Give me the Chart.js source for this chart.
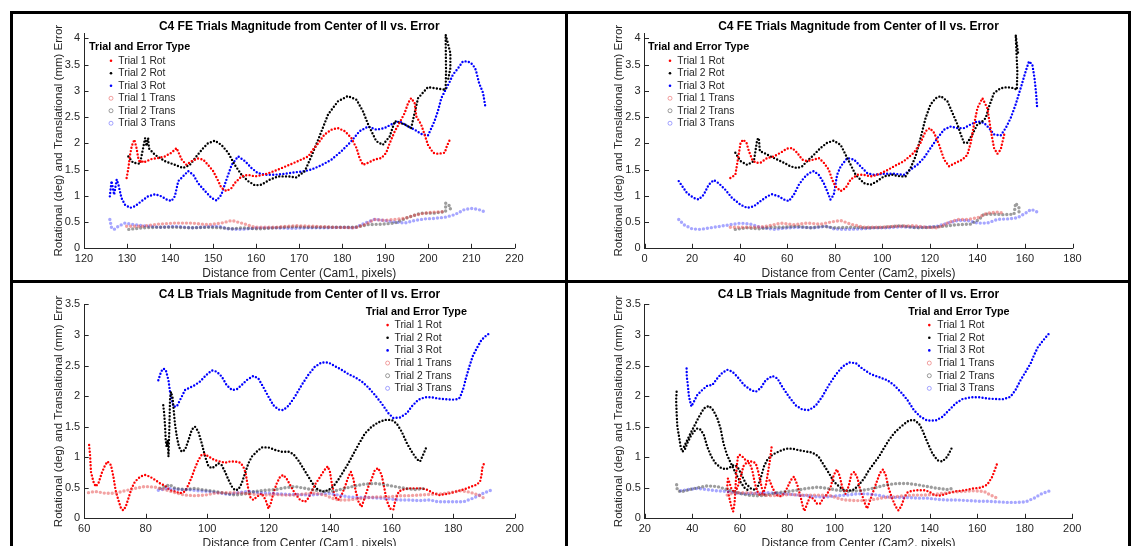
<!DOCTYPE html>
<html>
<head>
<meta charset="utf-8">
<script src="https://cdn.jsdelivr.net/npm/chart.js@4.4.1/dist/chart.umd.min.js"></script>
<style>
  html, body { margin: 0; padding: 0; background: #fff; width: 1134px; height: 546px; overflow: hidden; }
  .rule { position: absolute; background: #000; }
  canvas { position: absolute; }
</style>
</head>
<body>
<div class="rule" style="left:10px;top:11px;width:1121px;height:3px"></div>
<div class="rule" style="left:10px;top:11px;width:3px;height:540px"></div>
<div class="rule" style="left:565px;top:11px;width:3px;height:540px"></div>
<div class="rule" style="left:1128px;top:11px;width:3px;height:540px"></div>
<div class="rule" style="left:10px;top:280px;width:1121px;height:3px"></div>

<canvas id="c-fe1" width="552" height="266" style="left:13px;top:14px"></canvas>
<canvas id="c-fe2" width="560" height="266" style="left:568px;top:14px"></canvas>
<canvas id="c-lb1" width="552" height="267" style="left:13px;top:283px"></canvas>
<canvas id="c-lb2" width="560" height="267" style="left:568px;top:283px"></canvas>

<script>
// ===== DATA =====
const seriesLabels = ['Trial 1 Rot', 'Trial 2 Rot', 'Trial 3 Rot', 'Trial 1 Trans', 'Trial 2 Trans', 'Trial 3 Trans'];
const legendTitle = 'Trial and Error Type';
const titleFE = 'C4 FE Trials Magnitude from Center of II vs. Error';
const titleLB = 'C4 LB Trials Magnitude from Center of II vs. Error';
const xLabelCam1 = 'Distance from Center (Cam1, pixels)';
const xLabelCam2 = 'Distance from Center (Cam2, pixels)';
const yLabel = 'Rotational (deg) and Translational (mm) Error';

// FE, Cam1  [distance, error]
const feCam1Rot1 = [[129.9,1.34],[130.3,1.52],[130.7,1.78],[131.1,1.95],[131.7,2.07],[132.2,1.91],[132.6,1.72],[133.0,1.63],[133.4,1.68],[133.8,1.63],[134.5,1.66],[135.7,1.70],[137.2,1.72],[138.8,1.75],[140.3,1.82],[141.5,1.91],[142.7,1.69],[143.8,1.59],[145.0,1.66],[146.5,1.71],[147.7,1.69],[148.8,1.59],[150.0,1.47],[151.2,1.28],[151.9,1.15],[153.1,1.09],[154.3,1.15],[155.0,1.24],[156.6,1.37],[158.1,1.40],[159.7,1.37],[161.2,1.39],[162.8,1.43],[165.1,1.50],[167.4,1.58],[169.7,1.66],[172.1,1.75],[173.2,1.88],[174.4,2.00],[175.9,2.17],[177.5,2.26],[179.0,2.29],[180.6,2.23],[182.1,2.10],[183.3,1.91],[184.0,1.72],[184.8,1.59],[186.0,1.63],[187.5,1.69],[189.1,1.72],[190.2,1.82],[191.0,2.00],[192.2,2.23],[193.3,2.39],[194.5,2.58],[195.3,2.77],[196.0,2.86],[196.8,2.77],[197.2,2.51],[198.3,2.36],[199.1,2.17],[199.9,1.97],[201.1,1.82],[202.2,1.80],[203.8,1.82],[204.3,1.95],[205.0,2.07]];
const feCam1Rot2 = [[130.3,1.75],[131.4,1.63],[133.0,1.61],[134.2,2.10],[134.5,1.95],[134.9,2.10],[135.1,1.90],[136.5,1.78],[138.8,1.66],[141.1,1.59],[143.0,1.53],[144.6,1.59],[146.1,1.75],[147.7,1.91],[148.8,2.00],[150.4,2.05],[151.9,1.97],[153.5,1.82],[155.0,1.59],[156.6,1.40],[158.1,1.28],[159.7,1.20],[161.2,1.21],[163.2,1.31],[165.1,1.37],[167.4,1.37],[169.3,1.35],[171.3,1.47],[172.8,1.75],[174.4,2.07],[176.7,2.55],[179.0,2.80],[181.3,2.90],[183.3,2.83],[184.8,2.61],[186.0,2.36],[187.9,2.04],[189.4,1.97],[191.0,2.13],[192.2,2.42],[194.5,2.36],[196.0,2.29],[196.8,2.58],[197.6,2.86],[199.9,3.07],[202.2,3.04],[204.0,3.02],[204.1,3.37],[204.0,4.07],[205.1,3.72],[205.1,3.43],[204.5,3.18]];
const feCam1Rot3 = [[126.0,0.99],[126.4,1.28],[127.0,1.02],[127.6,1.31],[128.0,1.21],[128.7,0.96],[129.5,0.83],[130.7,0.77],[131.8,0.80],[133.4,0.90],[134.9,0.99],[136.5,1.03],[138.0,0.99],[139.2,0.93],[140.3,0.90],[141.1,0.99],[141.9,1.28],[143.0,1.37],[144.2,1.47],[145.4,1.40],[146.5,1.24],[148.1,1.09],[149.6,0.96],[150.8,0.91],[151.9,1.02],[153.1,1.31],[154.3,1.59],[155.8,1.75],[157.4,1.66],[158.9,1.53],[160.4,1.43],[162.4,1.40],[164.3,1.40],[166.6,1.42],[169.3,1.45],[171.3,1.47],[172.8,1.50],[175.1,1.58],[177.5,1.69],[179.8,1.85],[182.1,2.04],[184.0,2.23],[186.0,2.32],[187.9,2.26],[189.8,2.29],[191.4,2.36],[193.3,2.42],[195.3,2.32],[196.8,2.26],[198.3,2.18],[199.9,2.15],[200.7,2.29],[201.4,2.42],[202.2,2.61],[203.0,2.86],[203.8,2.99],[205.0,3.18],[205.7,3.31],[206.9,3.43],[208.0,3.56],[209.2,3.56],[210.3,3.50],[211.0,3.40],[211.8,3.14],[212.7,2.96],[213.2,2.71]];
const feCam1Tr1 = [[129.9,0.42],[133.4,0.42],[137.2,0.46],[141.1,0.48],[145.0,0.48],[148.8,0.45],[151.9,0.48],[154.3,0.53],[156.6,0.48],[159.7,0.40],[164.3,0.40],[169.0,0.43],[173.6,0.42],[178.2,0.40],[182.9,0.39],[185.2,0.45],[187.5,0.55],[189.8,0.53],[192.2,0.55],[194.5,0.57],[196.8,0.63],[199.1,0.67],[201.4,0.69],[203.9,0.70]];
const feCam1Tr2 = [[130.4,0.36],[133.4,0.39],[137.2,0.40],[141.1,0.40],[145.0,0.39],[148.8,0.40],[151.9,0.39],[154.3,0.37],[156.6,0.39],[160.4,0.37],[164.3,0.39],[169.0,0.41],[172.1,0.40],[176.7,0.40],[182.9,0.40],[186.0,0.45],[189.1,0.46],[192.2,0.48],[195.3,0.59],[198.3,0.67],[201.4,0.67],[204.0,0.70],[204.0,0.86],[205.1,0.80],[205.1,0.72]];
const feCam1Tr3 = [[126.0,0.55],[126.4,0.39],[127.0,0.36],[128.0,0.42],[129.5,0.48],[131.8,0.45],[134.9,0.42],[138.0,0.40],[141.1,0.42],[145.0,0.39],[148.8,0.41],[151.2,0.42],[153.5,0.37],[156.6,0.36],[160.4,0.39],[164.3,0.39],[168.2,0.38],[172.1,0.39],[175.9,0.39],[179.8,0.40],[182.9,0.39],[185.2,0.48],[187.5,0.55],[189.8,0.53],[192.2,0.50],[194.5,0.48],[196.8,0.53],[199.1,0.56],[201.4,0.57],[203.8,0.59],[206.1,0.64],[208.4,0.74],[210.3,0.76],[212.0,0.73],[213.2,0.69]];

// FE, Cam2
const feCam2Rot1 = [[36.1,1.34],[38.2,1.40],[39.6,1.78],[40.4,2.01],[41.5,2.07],[42.9,2.01],[43.9,1.85],[45.3,1.69],[46.7,1.63],[48.8,1.63],[51.6,1.72],[54.4,1.75],[57.2,1.82],[60.0,1.90],[62.1,1.91],[64.2,1.82],[66.3,1.69],[68.4,1.66],[71.2,1.69],[73.3,1.72],[75.4,1.63],[77.5,1.50],[78.9,1.31],[80.3,1.18],[82.5,1.09],[84.6,1.15],[86.7,1.31],[89.5,1.40],[92.3,1.40],[95.1,1.37],[97.9,1.40],[101.4,1.47],[104.9,1.56],[109.1,1.66],[113.3,1.82],[116.1,2.01],[118.2,2.23],[120.0,2.29],[121.8,2.20],[123.9,1.97],[126.0,1.69],[128.1,1.56],[130.9,1.63],[133.7,1.69],[135.8,1.78],[137.2,2.01],[138.6,2.36],[140.0,2.67],[142.1,2.86],[144.2,2.67],[145.7,2.23],[147.0,1.91],[148.4,1.80],[149.8,1.88],[151.3,2.17]];
const feCam2Rot2 = [[38.2,1.82],[40.4,1.66],[43.2,1.59],[46.0,1.66],[47.4,2.07],[48.1,2.10],[48.5,1.85],[50.2,1.82],[53.0,1.75],[55.8,1.69],[58.6,1.63],[61.4,1.56],[64.2,1.53],[66.3,1.56],[68.4,1.66],[71.2,1.78],[74.0,1.91],[76.8,2.01],[79.6,2.05],[82.5,1.97],[84.6,1.78],[86.7,1.59],[88.8,1.40],[92.3,1.24],[95.1,1.21],[97.9,1.28],[100.7,1.37],[104.2,1.40],[107.7,1.37],[109.8,1.37],[111.9,1.53],[114.0,1.75],[116.1,2.10],[118.2,2.48],[120.3,2.74],[122.5,2.86],[124.6,2.90],[127.4,2.80],[129.5,2.58],[131.6,2.36],[133.0,2.17],[134.4,2.01],[135.8,2.01],[137.9,2.17],[140.0,2.36],[141.4,2.39],[143.5,2.48],[144.9,2.70],[147.0,2.96],[149.8,3.05],[152.6,3.07],[155.4,3.05],[156.6,3.02],[156.8,3.37],[156.1,4.07],[157.1,3.72]];
const feCam2Rot3 = [[14.4,1.28],[17.9,1.05],[20.7,0.96],[22.8,0.93],[24.9,1.02],[27.0,1.21],[29.1,1.30],[31.2,1.24],[33.9,1.12],[36.8,0.96],[40.4,0.83],[43.2,0.77],[46.0,0.80],[48.8,0.90],[51.6,0.99],[53.7,1.03],[56.5,0.99],[58.6,0.93],[60.7,0.90],[62.8,1.02],[64.9,1.21],[67.0,1.34],[69.1,1.43],[71.2,1.47],[73.3,1.40],[75.4,1.24],[76.8,1.09],[78.2,0.93],[79.6,1.02],[81.0,1.40],[82.5,1.56],[85.3,1.72],[88.1,1.69],[90.9,1.56],[93.7,1.43],[96.5,1.40],[100.7,1.42],[104.9,1.42],[109.1,1.40],[111.9,1.50],[114.7,1.59],[117.5,1.72],[120.3,1.91],[123.2,2.10],[126.0,2.26],[128.8,2.32],[131.6,2.29],[134.4,2.29],[137.2,2.36],[140.0,2.42],[142.8,2.39],[144.9,2.29],[147.0,2.17],[149.8,2.15],[151.9,2.29],[154.0,2.48],[156.1,2.74],[158.2,3.05],[160.3,3.37],[161.7,3.56],[163.1,3.50],[164.0,3.25],[164.7,2.95],[165.1,2.70]];
const feCam2Tr1 = [[36.1,0.40],[40.4,0.40],[46.0,0.40],[51.6,0.42],[57.2,0.48],[62.8,0.45],[68.4,0.48],[74.0,0.46],[79.6,0.51],[82.5,0.53],[86.7,0.46],[92.3,0.40],[99.3,0.40],[106.3,0.42],[113.3,0.43],[118.9,0.40],[123.2,0.39],[127.4,0.48],[131.6,0.55],[135.8,0.55],[140.0,0.58],[144.2,0.67],[148.4,0.69],[151.3,0.67]];
const feCam2Tr2 = [[38.2,0.36],[43.2,0.39],[48.1,0.37],[53.0,0.40],[58.6,0.40],[64.2,0.42],[69.8,0.39],[75.4,0.42],[79.6,0.39],[86.7,0.40],[93.7,0.39],[100.7,0.40],[107.7,0.43],[114.7,0.39],[120.3,0.40],[126.0,0.42],[131.6,0.45],[137.2,0.46],[140.7,0.55],[142.8,0.65],[147.0,0.65],[151.3,0.64],[155.4,0.65],[156.1,0.86],[157.5,0.77],[157.5,0.67]];
const feCam2Tr3 = [[14.4,0.55],[16.5,0.45],[20.0,0.37],[23.5,0.36],[27.7,0.39],[31.9,0.42],[36.1,0.45],[40.4,0.48],[44.6,0.46],[48.8,0.40],[54.4,0.36],[60.0,0.39],[65.6,0.40],[71.2,0.39],[76.8,0.42],[79.6,0.37],[85.3,0.36],[90.9,0.37],[96.5,0.39],[102.1,0.39],[107.7,0.41],[113.3,0.40],[118.9,0.40],[123.2,0.42],[127.4,0.48],[131.6,0.53],[135.8,0.53],[140.0,0.48],[144.2,0.48],[148.4,0.55],[152.6,0.56],[156.8,0.58],[160.3,0.67],[162.5,0.74],[164.0,0.72],[165.2,0.69]];

// LB, Cam1
const lbCam1Rot1 = [[61.6,1.20],[61.9,1.04],[62.2,0.76],[63.0,0.60],[63.7,0.52],[64.6,0.57],[65.7,0.74],[66.8,0.87],[67.6,0.93],[68.7,0.87],[69.5,0.68],[70.2,0.46],[71.1,0.30],[72.0,0.16],[72.7,0.13],[73.5,0.19],[74.4,0.33],[75.4,0.49],[76.5,0.60],[78.2,0.68],[79.8,0.71],[81.4,0.68],[83.0,0.63],[84.7,0.57],[86.3,0.53],[87.9,0.46],[89.5,0.44],[91.2,0.41],[92.8,0.44],[93.9,0.55],[95.0,0.68],[96.0,0.82],[97.1,0.95],[98.2,1.04],[99.3,1.05],[100.4,1.01],[101.5,0.98],[102.5,0.95],[104.2,0.93],[105.8,0.91],[107.4,0.93],[109.0,0.93],[110.7,0.91],[111.7,0.85],[112.5,0.74],[113.2,0.52],[113.9,0.35],[115.0,0.30],[116.1,0.35],[117.7,0.41],[119.0,0.30],[119.9,0.16],[120.7,0.25],[121.5,0.41],[122.6,0.57],[123.7,0.68],[124.7,0.71],[125.8,0.65],[126.9,0.55],[128.5,0.41],[130.2,0.30],[131.8,0.27],[132.9,0.33],[134.0,0.44],[135.0,0.55],[136.1,0.63],[138.1,0.79],[139.2,0.85],[139.9,0.76],[140.5,0.57],[141.5,0.35],[142.6,0.30],[143.7,0.38],[144.8,0.52],[145.9,0.68],[146.7,0.76],[147.5,0.65],[148.3,0.44],[149.3,0.25],[150.2,0.19],[151.3,0.35],[152.4,0.52],[153.5,0.65],[154.5,0.79],[155.6,0.82],[156.7,0.71],[157.6,0.49],[158.3,0.30],[159.4,0.16],[160.5,0.14],[161.2,0.30],[162.3,0.44],[163.7,0.47],[165.4,0.49],[167.5,0.49],[169.7,0.49],[171.9,0.46],[173.5,0.41],[175.6,0.38],[178.9,0.41],[181.0,0.44],[183.3,0.47],[185.4,0.51],[187.6,0.55],[188.7,0.60],[189.2,0.71],[189.4,0.82],[190.1,0.91]];
const lbCam1Rot2 = [[85.7,1.85],[86.0,1.72],[86.3,1.50],[86.5,1.28],[86.8,1.17],[87.2,1.28],[87.4,1.01],[87.7,1.50],[87.9,1.94],[88.2,2.07],[88.7,1.99],[89.1,1.77],[89.5,1.55],[90.1,1.34],[90.8,1.17],[91.7,1.09],[92.8,1.12],[93.9,1.28],[95.0,1.45],[96.0,1.50],[97.1,1.42],[98.2,1.23],[99.3,1.01],[100.4,0.85],[101.5,0.82],[102.5,0.85],[103.6,0.90],[104.7,0.87],[105.8,0.76],[106.9,0.63],[108.0,0.52],[109.0,0.46],[110.1,0.47],[111.2,0.57],[112.3,0.74],[113.4,0.90],[114.5,1.01],[116.1,1.09],[117.7,1.16],[119.9,1.16],[122.0,1.12],[124.2,1.09],[126.4,1.09],[128.0,1.05],[129.6,0.95],[131.2,0.82],[132.9,0.68],[134.5,0.55],[136.1,0.46],[137.7,0.44],[139.4,0.46],[141.0,0.52],[142.6,0.63],[144.2,0.76],[145.9,0.90],[147.5,1.05],[149.1,1.20],[151.3,1.39],[153.5,1.50],[155.6,1.57],[157.8,1.61],[160.0,1.61],[161.6,1.55],[163.2,1.42],[164.9,1.23],[166.5,1.09],[168.1,0.97],[169.2,0.93],[170.2,1.04],[171.3,1.17]];
const lbCam1Rot3 = [[84.1,2.26],[85.0,2.40],[85.7,2.45],[86.5,2.43],[87.4,2.26],[87.9,2.07],[89.0,1.83],[90.1,1.83],[91.2,1.94],[92.8,2.10],[94.4,2.14],[96.0,2.18],[97.7,2.24],[99.8,2.35],[101.5,2.42],[103.1,2.40],[104.7,2.32],[106.3,2.18],[108.0,2.10],[109.6,2.11],[111.2,2.18],[112.8,2.26],[115.0,2.33],[116.6,2.29],[118.2,2.15],[119.9,1.99],[121.5,1.85],[123.1,1.78],[124.7,1.77],[126.4,1.84],[128.5,1.99],[130.7,2.18],[132.9,2.35],[135.0,2.48],[137.2,2.55],[139.4,2.55],[141.5,2.49],[143.7,2.43],[145.9,2.36],[148.0,2.31],[150.2,2.24],[152.4,2.14],[154.5,2.02],[156.7,1.88],[158.9,1.72],[160.5,1.64],[162.7,1.65],[164.9,1.72],[166.5,1.83],[168.6,1.94],[170.8,1.98],[173.0,1.98],[175.1,1.96],[177.3,1.95],[179.5,1.94],[181.6,1.95],[182.2,1.98],[183.3,2.13],[184.1,2.29],[185.2,2.48],[186.3,2.65],[187.6,2.78],[189.2,2.92],[190.9,3.00],[192.3,3.04]];
const lbCam1Tr1 = [[61.4,0.42],[63.5,0.44],[66.8,0.41],[70.0,0.41],[73.3,0.45],[76.5,0.49],[79.8,0.52],[83.0,0.51],[86.3,0.47],[89.5,0.42],[92.8,0.38],[96.0,0.37],[99.3,0.38],[102.5,0.41],[105.8,0.42],[109.0,0.42],[112.3,0.41],[115.5,0.39],[118.8,0.38],[122.0,0.39],[125.3,0.38],[128.5,0.38],[131.8,0.40],[135.0,0.41],[138.3,0.38],[140.5,0.33],[142.6,0.30],[145.9,0.30],[149.1,0.32],[152.4,0.34],[155.6,0.35],[158.9,0.35],[162.1,0.37],[165.4,0.37],[168.6,0.38],[171.9,0.39],[176.0,0.40],[180.0,0.43],[182.2,0.45],[184.3,0.44],[186.5,0.41],[188.7,0.37],[190.3,0.32]];
const lbCam1Tr2 = [[84.7,0.49],[86.3,0.52],[87.9,0.55],[89.5,0.49],[92.8,0.47],[96.0,0.49],[99.3,0.46],[102.5,0.44],[105.8,0.41],[109.0,0.38],[112.3,0.40],[115.5,0.44],[118.8,0.46],[122.0,0.47],[125.3,0.50],[128.5,0.52],[131.8,0.49],[135.0,0.46],[138.3,0.44],[141.5,0.45],[144.8,0.49],[148.0,0.53],[151.3,0.56],[154.5,0.57],[157.8,0.55],[161.0,0.52],[164.3,0.49],[167.5,0.47],[170.8,0.49]];
const lbCam1Tr3 = [[84.1,0.46],[87.4,0.49],[90.6,0.47],[93.9,0.47],[97.1,0.45],[100.4,0.44],[103.6,0.42],[106.9,0.39],[110.1,0.42],[113.4,0.44],[116.6,0.42],[119.9,0.41],[123.1,0.40],[126.4,0.39],[129.6,0.39],[132.9,0.38],[136.1,0.39],[139.4,0.41],[142.6,0.38],[145.9,0.35],[149.1,0.34],[152.4,0.34],[155.6,0.33],[158.9,0.32],[162.1,0.30],[165.4,0.30],[168.6,0.29],[172.4,0.30],[175.1,0.27],[178.9,0.27],[183.3,0.27],[186.5,0.33],[189.8,0.41],[192.3,0.46]];

// LB, Cam2  (null = break between separate passes)
const lbCam2Rot1 = [[55.0,0.65],[54.7,0.52],[55.2,0.40],[55.8,0.30],[56.5,0.18],[57.2,0.11],[57.8,0.25],[58.2,0.52],[58.7,0.85],[59.2,1.00],[59.9,1.04],[61.1,1.01],[62.5,0.95],[63.9,0.93],[65.3,0.93],[66.7,0.90],[67.6,0.79],[68.5,0.63],[69.5,0.46],[70.5,0.38], null,
  [55.5,0.60],[56.5,0.48],[57.8,0.42],[59.0,0.50],[60.4,0.68],[61.5,0.85],[62.8,0.91],[64.2,0.90],[65.3,0.78],[66.2,0.60],[67.2,0.45],[68.5,0.38],[70.0,0.42],[71.0,0.55],[72.0,0.78],[72.8,0.98],[73.4,1.17], null,
  [72.5,0.62],[74.0,0.48],[75.5,0.38],[77.0,0.36],[78.6,0.40],[80.0,0.50],[81.4,0.62],[82.8,0.68],[84.2,0.55],[85.6,0.35],[86.5,0.20],[87.2,0.12],[88.2,0.22],[89.5,0.35],[91.0,0.32],[92.5,0.24],[93.8,0.24],[95.2,0.33],[96.8,0.40],[98.2,0.50],[99.5,0.70],[100.8,0.80],[102.0,0.70],[103.2,0.50],[104.5,0.40],[105.8,0.52],[107.0,0.72],[108.2,0.76],[109.5,0.66],[110.5,0.50],[111.5,0.38],[112.6,0.25],[113.6,0.16],[114.6,0.26],[116.0,0.42],[117.5,0.58],[119.0,0.74],[120.3,0.80],[121.5,0.70],[122.6,0.50],[124.0,0.34],[125.5,0.20],[126.8,0.13],[128.0,0.20],[129.2,0.33],[130.5,0.42],[132.5,0.45],[135.0,0.46],[138.0,0.46],[140.0,0.43],[141.8,0.38],[144.0,0.37],[146.0,0.39],[148.5,0.42],[150.5,0.44],[153.0,0.45],[156.0,0.47],[158.6,0.49],[161.4,0.50],[164.2,0.55],[166.3,0.68],[168.4,0.90]];
const lbCam2Rot2 = [[33.4,2.07],[33.2,1.94],[33.4,1.72],[33.7,1.50],[34.4,1.34],[35.1,1.17],[35.8,1.09],[36.8,1.12],[37.9,1.23],[39.3,1.34],[40.7,1.42],[42.1,1.47],[43.5,1.45],[44.9,1.36],[46.3,1.17],[48.0,1.01],[49.8,0.90],[51.9,0.83],[54.0,0.80],[56.1,0.84],[57.5,0.87],[58.9,0.85],[60.4,0.74],[62.5,0.57],[64.6,0.49],[66.7,0.46],[67.6,0.52],[68.8,0.66],[70.2,0.85],[71.6,0.96],[73.7,1.04],[75.8,1.08],[77.9,1.12],[80.0,1.14],[82.1,1.14],[84.2,1.12],[87.0,1.10],[89.8,1.08],[91.9,1.05],[93.3,1.00],[95.4,0.87],[97.5,0.74],[99.6,0.60],[101.8,0.52],[103.9,0.46],[106.0,0.45],[108.1,0.47],[110.2,0.55],[112.3,0.65],[114.4,0.79],[116.5,0.90],[118.6,1.01],[120.7,1.15],[122.8,1.28],[124.9,1.39],[127.0,1.47],[129.1,1.54],[131.2,1.60],[133.3,1.61],[135.4,1.55],[136.8,1.45],[138.9,1.25],[141.1,1.06],[143.2,0.95],[145.3,0.93],[147.4,1.01],[149.5,1.17], null,
  [36.5,1.17],[38.6,1.34],[40.7,1.50],[42.8,1.66],[44.9,1.80],[47.0,1.84],[48.8,1.77],[50.5,1.64],[51.9,1.47],[53.1,1.23],[54.5,1.05],[56.0,0.92],[57.5,0.80],[59.0,0.68],[60.5,0.58],[62.0,0.50],[63.5,0.46]];
const lbCam2Rot3 = [[37.6,2.45],[37.7,2.30],[37.9,2.26],[38.6,1.99],[39.6,1.83],[40.7,1.91],[42.1,2.02],[44.2,2.10],[46.3,2.17],[48.4,2.18],[50.5,2.29],[52.6,2.38],[54.7,2.43],[56.8,2.40],[58.9,2.32],[61.8,2.18],[64.6,2.10],[66.7,2.07],[68.8,2.13],[70.9,2.26],[73.7,2.33],[75.8,2.29],[77.9,2.15],[80.7,1.99],[83.5,1.85],[86.3,1.78],[89.1,1.77],[91.9,1.84],[94.7,1.99],[97.5,2.18],[100.4,2.35],[103.2,2.48],[106.0,2.55],[108.8,2.54],[111.6,2.45],[115.1,2.36],[118.6,2.31],[122.1,2.26],[124.9,2.18],[127.7,2.07],[130.5,1.94],[133.3,1.77],[136.1,1.66],[138.9,1.60],[142.5,1.60],[145.3,1.66],[148.1,1.77],[150.9,1.88],[153.7,1.95],[157.2,1.98],[160.7,1.98],[164.2,1.96],[168.4,1.95],[171.2,1.95],[174.0,1.99],[176.1,2.10],[178.2,2.26],[180.4,2.40],[182.5,2.54],[183.9,2.67],[185.5,2.80],[187.5,2.90],[189.2,2.98],[190.6,3.04]];
const lbCam2Tr1 = [[54.7,0.38],[57.5,0.42],[60.4,0.42],[64.6,0.42],[68.8,0.39],[73.0,0.37],[77.2,0.38],[81.4,0.39],[85.6,0.38],[89.8,0.38],[94.0,0.38],[98.2,0.37],[101.1,0.33],[103.9,0.30],[108.1,0.29],[112.3,0.29],[116.5,0.31],[120.7,0.34],[124.9,0.35],[129.1,0.37],[133.3,0.38],[137.5,0.38],[141.8,0.39],[146.0,0.41],[150.2,0.43],[154.4,0.44],[158.6,0.45],[162.8,0.44],[165.6,0.38],[168.4,0.33]];
const lbCam2Tr2 = [[33.4,0.55],[33.7,0.46],[35.1,0.43],[37.9,0.46],[42.1,0.50],[46.3,0.53],[50.5,0.52],[54.7,0.47],[58.9,0.42],[63.2,0.38],[67.4,0.37],[71.6,0.38],[75.8,0.42],[80.0,0.44],[84.2,0.46],[88.4,0.49],[92.6,0.51],[96.8,0.49],[101.1,0.46],[105.3,0.44],[109.5,0.45],[113.7,0.47],[117.9,0.51],[122.1,0.55],[126.3,0.57],[130.5,0.57],[134.7,0.55],[138.9,0.52],[143.2,0.49],[147.4,0.47],[149.5,0.49]];
const lbCam2Tr3 = [[35.1,0.45],[37.9,0.47],[42.1,0.49],[46.3,0.47],[50.5,0.45],[54.7,0.44],[58.9,0.41],[63.2,0.40],[67.4,0.41],[71.6,0.42],[75.8,0.41],[80.0,0.40],[84.2,0.38],[88.4,0.37],[92.6,0.35],[96.8,0.35],[101.1,0.37],[105.3,0.38],[109.5,0.40],[113.7,0.40],[117.9,0.38],[122.1,0.35],[126.3,0.34],[130.5,0.34],[134.7,0.33],[138.9,0.33],[143.2,0.31],[147.4,0.30],[151.6,0.30],[155.8,0.29],[160.0,0.28],[164.2,0.28],[168.4,0.27],[172.6,0.26],[176.8,0.26],[180.4,0.27],[183.9,0.33],[187.0,0.40],[190.5,0.45]];

// ===== STYLE =====
const FONT = '"Liberation Sans", Arial, Helvetica, sans-serif';
const AXIS = '#262626';
const seriesStyle = [
  { color: '#ff0000', trans: false },
  { color: '#000000', trans: false },
  { color: '#0000ff', trans: false },
  { color: 'rgba(230,70,70,0.5)', trans: true },
  { color: 'rgba(50,50,50,0.48)', trans: true },
  { color: 'rgba(70,70,255,0.48)', trans: true }
];

const toXY = arr => arr.map(p => p ? { x: p[0], y: p[1] } : { x: null, y: null });

// MATLAB-like ticks pointing into the axes
const inwardTicks = {
  id: 'inwardTicks',
  afterDatasetsDraw(chart) {
    const { ctx, chartArea: a, scales: { x, y } } = chart;
    ctx.save();
    ctx.strokeStyle = AXIS;
    ctx.lineWidth = 1;
    ctx.beginPath();
    x.ticks.forEach(t => {
      const p = Math.round(x.getPixelForValue(t.value)) + 0.5;
      ctx.moveTo(p, a.bottom); ctx.lineTo(p, a.bottom - 4.5);
    });
    y.ticks.forEach(t => {
      const p = Math.round(y.getPixelForValue(t.value)) + 0.5;
      ctx.moveTo(a.left, p); ctx.lineTo(a.left + 4.5, p);
    });
    ctx.stroke();
    ctx.restore();
  }
};

// legend without box, placed inside the axes like the MATLAB one
const matLegend = {
  id: 'matLegend',
  afterDraw(chart, args, o) {
    const { ctx, chartArea: a } = chart;
    ctx.save();
    ctx.textBaseline = 'middle';
    ctx.textAlign = 'left';
    ctx.fillStyle = '#000';
    ctx.font = 'bold 10.8px ' + FONT;
    ctx.fillText(legendTitle, a.left + o.titleX, a.top + o.titleY);
    ctx.font = '10.3px ' + FONT;
    seriesLabels.forEach((label, i) => {
      const s = seriesStyle[i];
      const y = a.top + o.firstY + i * o.step;
      const mx = a.left + o.markX;
      ctx.beginPath();
      if (s.trans) {
        ctx.arc(mx, y, 2, 0, Math.PI * 2);
        ctx.strokeStyle = s.color;
        ctx.lineWidth = 1;
        ctx.stroke();
      } else {
        ctx.arc(mx, y, 1.3, 0, Math.PI * 2);
        ctx.fillStyle = s.color;
        ctx.fill();
      }
      ctx.fillStyle = AXIS;
      ctx.fillText(label, a.left + o.textX, y);
    });
    ctx.restore();
  }
};

const tickText = v => String(Number(v.toFixed(2)));

function makePanel(id, cfg) {
  const datasets = cfg.series.map((arr, i) => {
    const s = seriesStyle[i];
    return {
      label: seriesLabels[i],
      data: toXY(arr),
      showLine: true,
      borderColor: s.color,
      borderWidth: s.trans ? 3.4 : 2.4,
      borderDash: s.trans ? [0, 4] : [0, 3.4],
      borderCapStyle: 'round',
      pointRadius: 0,
      pointHoverRadius: 0,
      tension: 0,
      fill: false,
      spanGaps: false,
      order: s.trans ? 1 : 2
    };
  });

  return new Chart(document.getElementById(id), {
    type: 'scatter',
    data: { datasets },
    plugins: [inwardTicks, matLegend],
    options: {
      responsive: false,
      animation: false,
      events: [],
      layout: { padding: { left: cfg.padL, right: cfg.padR, top: 0, bottom: 0 } },
      plugins: {
        legend: { display: false },
        tooltip: { enabled: false },
        title: {
          display: true,
          text: cfg.title,
          fullSize: false,
          color: '#000',
          font: { family: FONT, size: 12, weight: 'bold', lineHeight: 1 },
          padding: { top: cfg.titleTop, bottom: cfg.titleBottom }
        },
        matLegend: cfg.legend
      },
      scales: {
        x: {
          type: 'linear',
          min: cfg.xMin, max: cfg.xMax,
          afterFit: s => { s.height = 31.7; },
          grid: { display: true, drawOnChartArea: false, drawTicks: false },
          border: { display: true, color: AXIS, width: 1 },
          ticks: { stepSize: cfg.xStep, autoSkip: false, maxRotation: 0, padding: 4.4, color: AXIS, font: { family: FONT, size: 11 }, callback: tickText },
          title: { display: true, text: cfg.xLabel, color: AXIS, font: { family: FONT, size: 12, lineHeight: 1 }, padding: { top: 0, bottom: 0 } }
        },
        y: {
          type: 'linear',
          min: 0, max: cfg.yMax,
          afterFit: s => { s.width = 40; },
          grid: { display: true, drawOnChartArea: false, drawTicks: false },
          border: { display: true, color: AXIS, width: 1 },
          ticks: { stepSize: 0.5, includeBounds: false, padding: 4, color: AXIS, font: { family: FONT, size: 11 }, callback: tickText },
          title: { display: true, text: yLabel, color: AXIS, font: { family: FONT, size: 11.5, lineHeight: 1 }, padding: { top: 8.6, bottom: 0 } }
        }
      }
    }
  });
}

const legendTopLeft  = { titleX: 5,   titleY: 13.8, markX: 27,  textX: 34.3, firstY: 27.7, step: 12.5 };
const legendTopRight = { titleX: 3.5, titleY: 13.8, markX: 25.5, textX: 32.8, firstY: 27.7, step: 12.5 };

makePanel('c-fe1', {
  title: titleFE, xLabel: xLabelCam1, xMin: 120, xMax: 220, xStep: 10, yMax: 4.1,
  padL: 31, padR: 50.5, titleTop: 6.7, titleBottom: 0.35, legend: legendTopLeft,
  series: [feCam1Rot1, feCam1Rot2, feCam1Rot3, feCam1Tr1, feCam1Tr2, feCam1Tr3]
});
makePanel('c-fe2', {
  title: titleFE, xLabel: xLabelCam2, xMin: 0, xMax: 180, xStep: 20, yMax: 4.1,
  padL: 36.5, padR: 55.5, titleTop: 6.7, titleBottom: 0.35, legend: legendTopRight,
  series: [feCam2Rot1, feCam2Rot2, feCam2Rot3, feCam2Tr1, feCam2Tr2, feCam2Tr3]
});
makePanel('c-lb1', {
  title: titleLB, xLabel: xLabelCam1, xMin: 60, xMax: 200, xStep: 20, yMax: 3.5,
  padL: 31.2, padR: 50.2, titleTop: 6, titleBottom: 3.4,
  legend: { titleX: 281.5, titleY: 7.4, markX: 303.4, textX: 310.3, firstY: 20.7, step: 12.65 },
  series: [lbCam1Rot1, lbCam1Rot2, lbCam1Rot3, lbCam1Tr1, lbCam1Tr2, lbCam1Tr3]
});
makePanel('c-lb2', {
  title: titleLB, xLabel: xLabelCam2, xMin: 20, xMax: 200, xStep: 20, yMax: 3.5,
  padL: 36.8, padR: 55.7, titleTop: 6, titleBottom: 3.4,
  legend: { titleX: 263.5, titleY: 7.4, markX: 284.5, textX: 292.5, firstY: 20.7, step: 12.65 },
  series: [lbCam2Rot1, lbCam2Rot2, lbCam2Rot3, lbCam2Tr1, lbCam2Tr2, lbCam2Tr3]
});
</script>
</body>
</html>
